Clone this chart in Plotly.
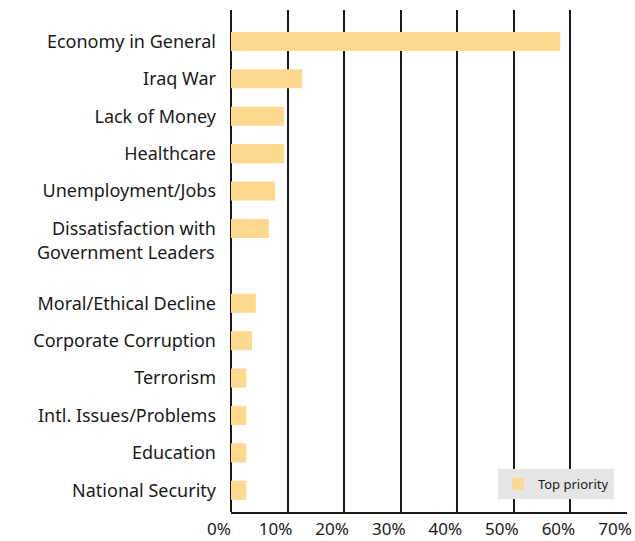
import plotly.graph_objects as go

categories = ["Economy in General", "Iraq War", "Lack of Money", "Healthcare",
              "Unemployment/Jobs", "Dissatisfaction with", None,
              "Moral/Ethical Decline", "Corporate Corruption", "Terrorism",
              "Intl. Issues/Problems", "Education", "National Security"]
values = [58.2, 12.6, 9.4, 9.4, 7.8, 6.7, None, 4.4, 3.7, 2.7, 2.7, 2.7, 2.7]
extra_line = "Government Leaders"
series_name = "Top priority"
x_ticks = [0, 10, 20, 30, 40, 50, 60, 70]
x_ticktext = [f"{v}%" for v in x_ticks]

pos = [i for i, c in enumerate(categories) if c is not None]
labels = [c for c in categories if c is not None]
vals = [v for c, v in zip(categories, values) if c is not None]

FONT = "Noto Sans"
FS = 18
fig = go.Figure()
fig.add_trace(go.Bar(
    x=vals, y=pos, orientation="h", name=series_name,
    marker=dict(color="#FFD98F", line=dict(width=0)),
    width=0.51, showlegend=True,
))

two_line_idx = categories.index("Dissatisfaction with")
fig.add_annotation(x=0, xref="paper", y=two_line_idx, yref="y",
                   text=extra_line, showarrow=False, xanchor="right",
                   yanchor="middle", xshift=-14, yshift=-24,
                   font=dict(family=FONT, size=FS, color="#1a1a1a"))

fig.update_layout(
    width=635, height=541,
    margin=dict(l=231, r=8, t=10, b=29, autoexpand=False),
    paper_bgcolor="white", plot_bgcolor="white",
    font=dict(family=FONT, size=FS, color="#1a1a1a"),
    legend=dict(x=0.967, y=0.026, xanchor="right", yanchor="bottom",
                bgcolor="#e6e6e6", font=dict(size=13, color="#1a1a1a"),
                itemwidth=30),
)
fig.update_xaxes(range=[0, 70], tickvals=x_ticks, ticktext=x_ticktext,
                 tickfont=dict(size=17),
                 showgrid=True, gridcolor="#1a1a1a", gridwidth=1.5,
                 zeroline=True, zerolinecolor="#1a1a1a", zerolinewidth=1.5,
                 showline=True, linecolor="#1a1a1a", linewidth=1.5,
                 ticks="", ticklabelshift=-12, ticklabelstandoff=1,
                 automargin=False, fixedrange=True)
fig.update_yaxes(range=[12.58, -0.84], tickvals=pos, ticktext=labels,
                 showgrid=False, zeroline=False, showline=False,
                 ticks="", ticklabelstandoff=14, automargin=False)

fig.write_html("out.html")
